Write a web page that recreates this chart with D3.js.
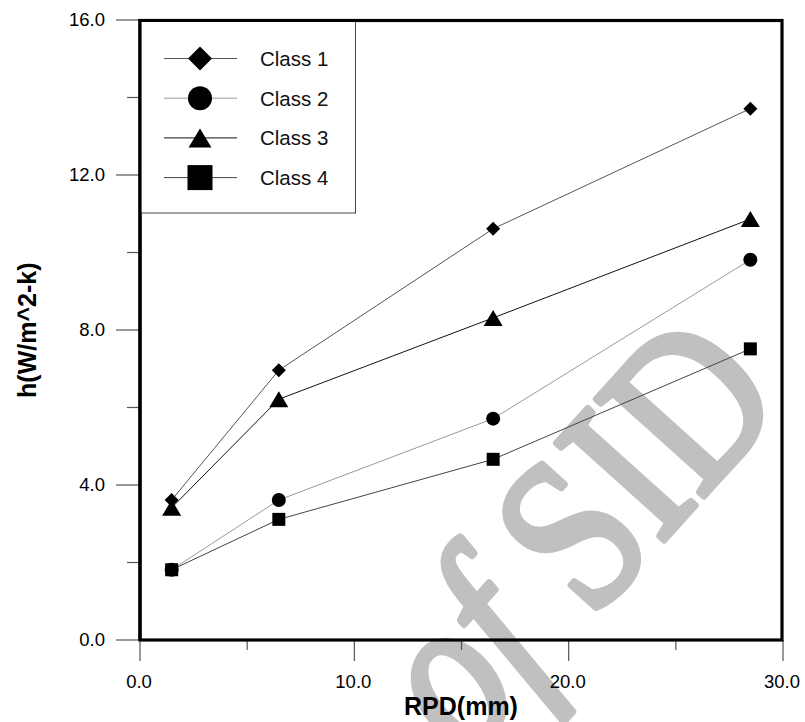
<!DOCTYPE html>
<html>
<head>
<meta charset="utf-8">
<script src="https://cdn.jsdelivr.net/npm/d3@7"></script>
<style>
  html, body { margin: 0; padding: 0; background: #fff; }
  svg { display: block; }
</style>
</head>
<body>
<svg id="chart" width="805" height="722"></svg>
<script>
// ---- data ----
const xValues = [1.5, 6.5, 16.5, 28.5];
const class1 = [3.6, 6.95, 10.6, 13.7];
const class2 = [1.8, 3.6, 5.7, 9.8];
const class3 = [3.4, 6.2, 8.3, 10.85];
const class4 = [1.8, 3.1, 4.65, 7.5];
const seriesNames = ["Class 1", "Class 2", "Class 3", "Class 4"];
const seriesShapes = ["diamond", "circle", "triangle", "square"];
const seriesColors = ["#555555", "#9a9a9a", "#111111", "#444444"];
const xTicks = [0, 10, 20, 30];
const xMinorTicks = [5, 15, 25];
const yTicks = [0, 4, 8, 12, 16];
const yMinorTicks = [2, 6, 10, 14];
const xTitle = "RPD(mm)";
const yTitle = "h(W/m^2-k)";
const watermark = ["of", " SID"];

const seriesValues = [class1, class2, class3, class4];

(function () {
const svg = d3.select("#chart");
const pL = 140, pR = 782, pT = 20.5, pB = 640;
const x = d3.scaleLinear().domain([0, 30]).range([pL - 0.5, pR + 0.5]);
const y = d3.scaleLinear().domain([0, 16]).range([pB - 0.5, pT - 1]);

// watermark (behind)
const wm = svg.append("text")
  .attr("transform", "translate(466,760) rotate(-48) scale(0.95,1.15)")
  .attr("font-family", "Liberation Serif, Times New Roman, serif")
  .attr("font-size", 192)
  .attr("fill", "#c0c0c0")
  .attr("stroke", "#c0c0c0")
  .attr("stroke-width", 6)
  .attr("stroke-linejoin", "round");
wm.append("tspan").attr("font-style", "italic").text(watermark[0]);
wm.append("tspan").text(watermark[1]);

const font = "Liberation Sans, Arial, Helvetica, sans-serif";

function shapePath(shape, s) {
  const p = d3.path();
  if (shape === "diamond") {
    p.moveTo(0, -s.r); p.lineTo(s.r, 0); p.lineTo(0, s.r); p.lineTo(-s.r, 0); p.closePath();
  } else if (shape === "circle") {
    p.arc(0, 0, s.r, 0, 2 * Math.PI);
  } else if (shape === "triangle") {
    p.moveTo(0, -s.h / 2); p.lineTo(s.w / 2, s.h / 2); p.lineTo(-s.w / 2, s.h / 2); p.closePath();
  } else {
    p.rect(-s.r, -s.r, 2 * s.r, 2 * s.r);
  }
  return p.toString();
}
const plotSizes = { diamond: { r: 7 }, circle: { r: 7 }, triangle: { w: 19, h: 16 }, square: { r: 6.5 } };
const legendSizes = { diamond: { r: 12 }, circle: { r: 12 }, triangle: { w: 23, h: 19 }, square: { r: 12.5 } };

// axes ticks
const xAxisMajor = d3.axisBottom(x).tickValues(xTicks).tickSize(21).tickFormat(d3.format(".1f"));
const xAxisMinor = d3.axisBottom(x).tickValues(xMinorTicks).tickSize(10).tickFormat("");
const gx = svg.append("g").attr("transform", `translate(0,${pB})`).call(xAxisMajor);
svg.append("g").attr("transform", `translate(0,${pB})`).call(xAxisMinor);
const yAxisMajor = d3.axisLeft(y).tickValues(yTicks).tickSize(23).tickFormat(d3.format(".1f"));
const yAxisMinor = d3.axisLeft(y).tickValues(yMinorTicks).tickSize(12).tickFormat("");
const gy = svg.append("g").attr("transform", `translate(${pL - 1},0)`).call(yAxisMajor);
svg.append("g").attr("transform", `translate(${pL - 1},0)`).call(yAxisMinor);
svg.selectAll(".domain").remove();
svg.selectAll(".tick line").attr("stroke", "#555").attr("stroke-width", 1.2);
gx.selectAll(".tick text").attr("font-family", font).attr("font-size", 18.5).attr("fill", "#000")
  .attr("y", 0).attr("dy", 0).attr("transform", "translate(-1,48)");
gy.selectAll(".tick text").attr("font-family", font).attr("font-size", 18.5).attr("fill", "#000")
  .attr("x", -34).attr("dy", "0.35em");

// series lines + markers
const line = d3.line().x((d, i) => x(xValues[i])).y(d => y(d));
seriesValues.forEach((vals, k) => {
  svg.append("path").datum(vals).attr("d", line)
    .attr("fill", "none").attr("stroke", seriesColors[k]).attr("stroke-width", 1);
});
seriesValues.forEach((vals, k) => {
  svg.append("g").selectAll("path").data(vals).join("path")
    .attr("transform", (d, i) => `translate(${x(xValues[i])},${y(d)})`)
    .attr("d", shapePath(seriesShapes[k], plotSizes[seriesShapes[k]]))
    .attr("fill", "#000");
});

// frame
svg.append("rect").attr("x", pL).attr("y", pT).attr("width", pR - pL).attr("height", pB - pT)
  .attr("fill", "none").attr("stroke", "#000").attr("stroke-width", 3.2);

// legend
const lg = svg.append("g");
lg.append("rect").attr("x", pL).attr("y", pT).attr("width", 355.5 - pL).attr("height", 213 - pT)
  .attr("fill", "#fff").attr("stroke", "#444").attr("stroke-width", 1);
svg.append("path").attr("d", `M${pL},${pB}V${pT}H${pR}`).attr("fill", "none")
  .attr("stroke", "#000").attr("stroke-width", 3.2);
seriesNames.forEach((name, k) => {
  const cy = 58.5 + k * 39.7;
  lg.append("line").attr("x1", 164).attr("x2", 237).attr("y1", cy).attr("y2", cy)
    .attr("stroke", seriesColors[k]).attr("stroke-width", 1);
  lg.append("path").attr("transform", `translate(200,${cy})`)
    .attr("d", shapePath(seriesShapes[k], legendSizes[seriesShapes[k]])).attr("fill", "#000");
  lg.append("text").attr("x", 260).attr("y", cy).attr("dy", "0.36em")
    .attr("font-family", font).attr("font-size", 20.5).attr("fill", "#111").text(name);
});

// axis titles
svg.append("text").attr("x", (pL + pR) / 2).attr("y", 715).attr("text-anchor", "middle")
  .attr("font-family", font).attr("font-weight", "bold").attr("font-size", 25).text(xTitle);
svg.append("text").attr("transform", `translate(36,${(pT + pB) / 2}) rotate(-90)`)
  .attr("text-anchor", "middle").attr("font-family", font).attr("font-weight", "bold")
  .attr("font-size", 25).text(yTitle);
})();
</script>
</body>
</html>
